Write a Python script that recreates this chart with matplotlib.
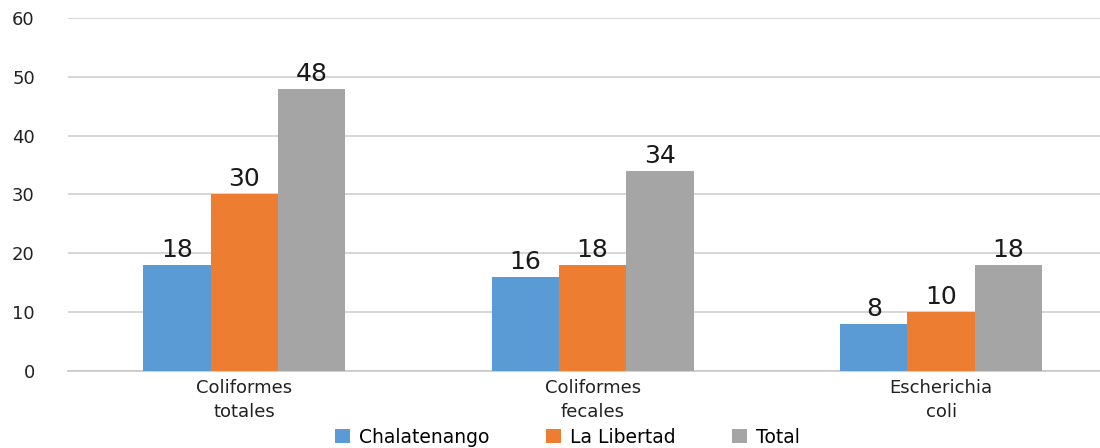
import numpy as np
import matplotlib.pyplot as plt

# === Datos ===
categorias = ['Coliformes\ntotales', 'Coliformes\nfecales', 'Escherichia\ncoli']
chalatenango = [18, 16, 8]
la_libertad = [30, 18, 10]
total = [48, 34, 18]
series = ['Chalatenango', 'La Libertad', 'Total']
colores = ['#5B9BD5', '#ED7D31', '#A5A5A5']

plt.rcParams['font.family'] = ['DejaVu Sans']

fig = plt.figure(figsize=(11, 4.48), dpi=100)
ax = fig.add_axes([0.062, 0.172, 0.938, 0.788])

x = np.arange(len(categorias))
ancho = 0.193
for i, (nombre, vals) in enumerate(zip(series, [chalatenango, la_libertad, total])):
    barras = ax.bar(x + (i - 1) * ancho, vals, ancho, color=colores[i], label=nombre, zorder=3)
    for b, v in zip(barras, vals):
        ax.text(b.get_x() + b.get_width() / 2, v + 0.5, str(v), ha='center', va='bottom',
                fontsize=18, color='#1a1a1a')

ax.set_xlim(-0.505, 2.456)
ax.set_ylim(0, 60)
ax.set_yticks(range(0, 61, 10))
ax.set_xticks(x)
ax.set_xticklabels(categorias, fontsize=13, linespacing=1.4, color='#222222')
ax.tick_params(axis='y', labelsize=13, length=0, pad=24, labelcolor='#222222')
ax.tick_params(axis='x', length=0, pad=6)
ax.grid(axis='y', color='#D0D0D0', linewidth=1.2, zorder=0)
for s in ['top', 'right', 'left']:
    ax.spines[s].set_visible(False)
ax.spines['bottom'].set_color('#C8C8C8')
ax.spines['bottom'].set_linewidth(1.2)

fig.legend(loc='lower center', bbox_to_anchor=(0.516, -0.035), ncol=3, frameon=False,
           fontsize=13.5, handlelength=0.8, handleheight=0.8, columnspacing=3.0, handletextpad=0.5)

fig.savefig('out.png', dpi=100)
